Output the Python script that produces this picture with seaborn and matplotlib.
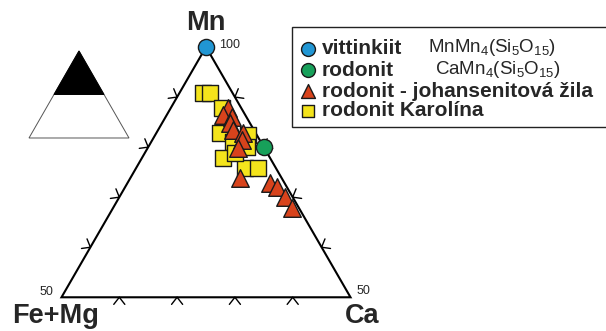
import numpy as np
import pandas as pd
import matplotlib
matplotlib.use("Agg")
import matplotlib.pyplot as plt
import seaborn as sns
from matplotlib.patches import Polygon, Rectangle

sns.set_theme(style="white")
plt.rcParams["font.family"] = ["Liberation Sans", "DejaVu Sans"]
plt.rcParams["mathtext.fontset"] = "custom"
plt.rcParams["mathtext.rm"] = "Liberation Sans"
plt.rcParams["mathtext.it"] = "Liberation Sans:italic"
plt.rcParams["mathtext.bf"] = "Liberation Sans:bold"

# --- compositions (atomic %, Mn + Ca + Fe+Mg = 100) ---
vitt_mn, vitt_ca, vitt_femg = [100.0], [0.0], [0.0]
rod_mn, rod_ca, rod_femg = [80.0], [20.0], [0.0]

joh_mn = [87.8, 86.4, 86.0, 84.8, 83.4, 82.8, 81.4, 79.8, 73.8, 72.8, 72.0, 70.0, 67.8]
joh_ca = [9.9, 9.7, 11.5, 11.7, 13.0, 15.0, 15.5, 15.6, 19.0, 24.7, 26.3, 28.7, 31.0]
joh_femg = [2.3, 3.9, 2.5, 3.5, 3.6, 2.2, 3.1, 4.6, 7.2, 2.5, 1.7, 1.3, 1.2]

kar_mn = [90.8, 90.8, 87.8, 82.8, 81.0, 82.4, 77.8, 75.8, 75.8, 78.8, 80.0]
kar_ca = [4.1, 5.3, 8.9, 11.0, 14.2, 16.1, 14.0, 18.9, 21.1, 15.6, 17.1]
kar_femg = [5.1, 3.9, 3.3, 6.2, 4.8, 1.5, 8.2, 5.3, 3.1, 5.6, 2.9]

corner_labels = ["Mn", "Fe+Mg", "Ca"]
tick_labels = ["100", "50", "50"]
legend_names = ["vittinkiit", "rodonit", "rodonit - johansenitová žila", "rodonit Karolína"]
legend_formulas = [r"MnMn$_4$(Si$_5$O$_{15}$)", r"CaMn$_4$(Si$_5$O$_{15}$)", "", ""]

H = np.sqrt(3) / 2


def tern_xy(mn, ca, femg):
    mn, ca, femg = (np.asarray(v, float) for v in (mn, ca, femg))
    tot = mn + ca + femg
    m, c = mn / tot, ca / tot
    return c + m / 2, m * H


W, HT = 606, 331
fig = plt.figure(figsize=(W / 100, HT / 100), dpi=100)
fig.patch.set_facecolor("white")
ax = fig.add_axes([0, 0, 1, 1])
SC = 578.0  # pixels per ternary unit
AX0, AY0 = 206.0, 47.0
ax.set_xlim(0.5 - AX0 / SC, 0.5 + (W - AX0) / SC)
ax.set_ylim(H - (HT - AY0) / SC, H + AY0 / SC)
ax.axis("off")


def px(x, y):
    """figure pixel (from top-left) -> data coords"""
    return 0.5 + (x - AX0) / SC, H - (y - AY0) / SC


# triangle outline (Mn 50-100 sector)
cx, cy = tern_xy([100, 50, 50, 100], [0, 0, 50, 0], [0, 50, 0, 0])
ax.plot(cx, cy, color="black", lw=1.5, solid_joinstyle="miter", zorder=2)

# chevron ticks on each edge
arm = 9.0 / SC


def chevrons(p0, p1, normal_deg):
    for f in (0.2, 0.4, 0.6, 0.8):
        vx = p0[0] + (p1[0] - p0[0]) * f
        vy = p0[1] + (p1[1] - p0[1]) * f
        for d in (normal_deg - 38, normal_deg + 38):
            a = np.deg2rad(d)
            ax.plot([vx, vx + arm * np.cos(a)], [vy, vy + arm * np.sin(a)],
                    color="black", lw=1.0, zorder=2)


top = (cx[0], cy[0]); left = (cx[1], cy[1]); right = (cx[2], cy[2])
chevrons(left, right, -90)
chevrons(left, top, 150)
chevrons(right, top, 30)

# data points
def draw(mn, ca, femg, marker, color, s, z):
    x, y = tern_xy(mn, ca, femg)
    df = pd.DataFrame({"x": x, "y": y})
    sns.scatterplot(data=df, x="x", y="y", marker=marker, color=color, s=s,
                    edgecolor="#1a1a1a", linewidth=1.0, ax=ax, zorder=z, legend=False)


draw(kar_mn, kar_ca, kar_femg, "s", "#F4E41C", 125, 3)
draw(joh_mn, joh_ca, joh_femg, "^", "#D8431C", 160, 4)
draw(rod_mn, rod_ca, rod_femg, "o", "#17A05A", 135, 5)
draw(vitt_mn, vitt_ca, vitt_femg, "o", "#2196D3", 135, 5)
ax.set_xlabel(""); ax.set_ylabel("")

# corner and scale labels
ax.text(*px(206, 23), corner_labels[0], fontsize=19.5, fontweight="bold", ha="center", va="center")
ax.text(*px(56, 316), corner_labels[1], fontsize=19.5, fontweight="bold", ha="center", va="center")
ax.text(*px(362, 316), corner_labels[2], fontsize=19.5, fontweight="bold", ha="center", va="center")
ax.text(*px(219, 45), tick_labels[0], fontsize=9, ha="left", va="center")
ax.text(*px(53, 292), tick_labels[1], fontsize=9, ha="right", va="center")
ax.text(*px(357, 291), tick_labels[2], fontsize=9, ha="left", va="center")

# inset schematic triangle
iax = fig.add_axes([28 / W, 1 - 139 / HT, 102 / W, 89 / HT])
iax.set_xlim(-0.01, 1.01); iax.set_ylim(-0.01, H + 0.01); iax.axis("off")
iax.add_patch(Polygon([(0, 0), (1, 0), (0.5, H)], closed=True, fc="white", ec="#555555", lw=0.7))
iax.add_patch(Polygon([(0.25, H / 2), (0.75, H / 2), (0.5, H)], closed=True, fc="black", ec="black", lw=0.7))

# legend
lx0, ly0 = px(292, 27)
lx1, ly1 = px(640, 127)
ax.add_patch(Rectangle((lx0, ly1), lx1 - lx0, ly0 - ly1, fc="white", ec="#222222", lw=1.0, zorder=6))
rows_y = [49, 70, 91, 111]
leg_markers = [("o", "#2196D3"), ("o", "#17A05A"), ("^", "#D8431C"), ("s", "#F4E41C")]
formula_x = [428, 435]
for i, (name, formula) in enumerate(zip(legend_names, legend_formulas)):
    mk, col = leg_markers[i]
    ax.scatter(*px(308, rows_y[i]), marker=mk, s=100 if mk != "s" else 85, c=col,
               edgecolors="#1a1a1a", linewidths=1.0, zorder=7)
    ax.text(*px(322, rows_y[i]), name, fontsize=15, fontweight="bold",
            ha="left", va="center", zorder=7)
    if formula:
        ax.text(*px(formula_x[i], rows_y[i] - 1), formula, fontsize=13.5,
                ha="left", va="center", zorder=7)

fig.savefig("out.png", dpi=100, facecolor="white")
